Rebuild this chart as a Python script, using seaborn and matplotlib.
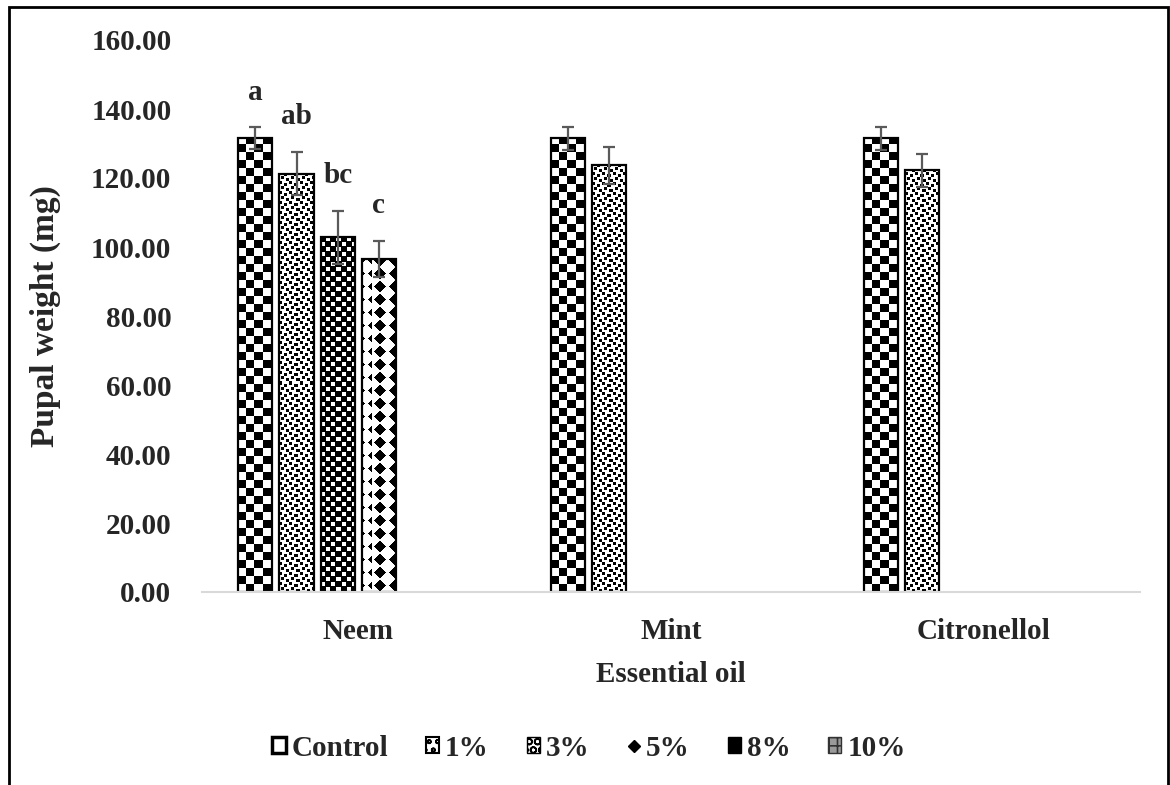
import numpy as np
import pandas as pd
import matplotlib
matplotlib.use("Agg")
import matplotlib.pyplot as plt
import seaborn as sns
from matplotlib.patches import Patch, Rectangle
from matplotlib.lines import Line2D

# ---------------- data ----------------
oils = ["Neem", "Mint", "Citronellol"]
levels = ["Control", "1%", "3%", "5%", "8%", "10%"]

neem_levels = ["Control", "1%", "3%", "5%"]
neem_mean = [131.5, 121.3, 102.8, 96.5]
neem_se = [3.2, 6.3, 7.6, 5.2]
neem_letters = ["a", "ab", "bc", "c"]

mint_levels = ["Control", "1%"]
mint_mean = [131.5, 123.7]
mint_se = [3.3, 5.3]

citro_levels = ["Control", "1%"]
citro_mean = [131.5, 122.3]
citro_se = [3.3, 4.8]

y_ticks = [0, 20, 40, 60, 80, 100, 120, 140, 160]

rows = []
for lv, m, s, l in zip(neem_levels, neem_mean, neem_se, neem_letters):
    rows.append(dict(oil="Neem", level=lv, weight=m, se=s, letter=l))
for lv, m, s in zip(mint_levels, mint_mean, mint_se):
    rows.append(dict(oil="Mint", level=lv, weight=m, se=s, letter=""))
for lv, m, s in zip(citro_levels, citro_mean, citro_se):
    rows.append(dict(oil="Citronellol", level=lv, weight=m, se=s, letter=""))
df = pd.DataFrame(rows)

# ---------------- style ----------------
sns.set_theme(style="white")
plt.rcParams["font.family"] = ["Liberation Serif", "DejaVu Serif"]
plt.rcParams["font.weight"] = "bold"
plt.rcParams["hatch.linewidth"] = 1.2
FS = 21

fig = plt.figure(figsize=(11.7, 7.85), dpi=100)
ax = fig.add_axes([202 / 1170, 1 - 592 / 785, (1140 - 202) / 1170, (592 - 40) / 785])

WIDTH = 0.79
sns.barplot(data=df, x="oil", y="weight", hue="level", order=oils,
            hue_order=levels, width=WIDTH, gap=0.17, errorbar=None,
            palette=["white"] * len(levels), edgecolor="black",
            linewidth=1.6, legend=False, ax=ax)

ax.set_ylim(0, 160)
ax.set_xlim(-0.5, len(oils) - 0.5)
ax.set_yticks(y_ticks)
ax.set_yticklabels([f"{v:.2f}" for v in y_ticks])
for s in ["top", "right", "left"]:
    ax.spines[s].set_visible(False)
ax.spines["bottom"].set_color("#d9d9d9")
ax.spines["bottom"].set_linewidth(1.5)
ax.tick_params(axis="both", length=0, labelsize=FS)
ax.tick_params(axis="y", pad=22)
ax.tick_params(axis="x", pad=19)
ax.set_xlabel("Essential oil", fontsize=FS, fontweight="bold", labelpad=11)
ax.set_ylabel("Pupal weight (mg)", fontsize=24, fontweight="bold", labelpad=22)
for t in ax.get_xticklabels() + ax.get_yticklabels():
    t.set_fontweight("bold")


# ---------------- textures ----------------
def tex_checker(cell):
    t = np.ones((2 * cell, 2 * cell))
    t[:cell, :cell] = 0
    t[cell:, cell:] = 0
    return t


def tex_dots():
    t = np.ones((10, 10))
    for r, c in [(0, 0), (2, 5), (5, 2), (7, 7)]:
        t[r:r + 3, c:c + 3] = 0
    return t


def tex_dark():
    t = np.zeros((10, 10))
    t[0:4, 0:4] = 1
    t[5:9, 5:9] = 1
    return t


def tex_diamond():
    t = np.ones((13, 14))
    yy, xx = np.mgrid[0:13, 0:14]
    t[np.abs(yy - 6) + np.abs(xx - 7) <= 5] = 0
    return t


textures = {"Control": tex_checker(8), "1%": tex_dots(), "3%": tex_dark(),
            "5%": tex_diamond(), "8%": np.zeros((4, 4)), "10%": tex_checker(2)}

slot = WIDTH / len(levels)
trans = ax.transData
for p in list(ax.patches):
    h = p.get_height()
    if not np.isfinite(h) or h <= 0:
        continue
    x0 = p.get_x()
    w = p.get_width()
    xc = x0 + w / 2
    cat = int(round(xc))
    hidx = int(round((xc - cat + WIDTH / 2) / slot - 0.5))
    oil = oils[cat]
    lv = levels[hidx]
    row = df[(df.oil == oil) & (df.level == lv)].iloc[0]

    (px0, py0) = trans.transform((x0, 0))
    (px1, py1) = trans.transform((x0 + w, h))
    wpx = max(int(round(px1 - px0)), 1)
    hpx = max(int(round(py1 - py0)), 1)
    T = textures[lv]
    th, tw = T.shape
    arr = np.tile(T, (hpx // th + 2, wpx // tw + 2))
    arr = arr[-hpx:, :wpx]
    if lv == "5%":
        arr = np.roll(arr, (wpx // 2 - 7) % tw, axis=1)
    im = ax.imshow(arr, extent=[x0, x0 + w, 0, h], cmap="gray", vmin=0, vmax=1,
                   interpolation="nearest", aspect="auto", origin="upper",
                   zorder=0.9)
    im.set_clip_path(p)
    p.set_facecolor("none")
    p.set_zorder(1.2)

    ax.errorbar(xc, h, yerr=row.se, fmt="none", ecolor="#5a5a5a",
                elinewidth=1.6, capsize=4.5, capthick=1.6, zorder=3)
    if row.letter:
        ax.annotate(row.letter, (xc, h + row.se), xytext=(0, 20),
                    textcoords="offset points", ha="center", va="baseline",
                    fontsize=FS, fontweight="bold")

ax.set_ylim(0, 160)
ax.set_xlim(-0.5, len(oils) - 0.5)

# ---------------- legend ----------------
handles = [
    Patch(facecolor="white", edgecolor="black", linewidth=2.5),
    Patch(facecolor="white", edgecolor="black", hatch="oo", linewidth=1.5),
    Patch(facecolor="white", edgecolor="black", hatch="OO", linewidth=1.0),
    Line2D([], [], marker="D", color="black", markersize=6, linestyle="none"),
    Patch(facecolor="black", edgecolor="black"),
    Patch(facecolor="#9a9a9a", edgecolor="#333333", hatch="++", linewidth=1.0),
]
fig.legend(handles, levels, loc="center", bbox_to_anchor=(589 / 1170, 1 - 748 / 785),
           ncol=6, frameon=False, fontsize=FS, handlelength=0.45,
           handleheight=0.45, handletextpad=0.2, columnspacing=1.3,
           prop={"weight": "bold", "size": FS})

# outer frame
fig.add_artist(Rectangle((9 / 1170, -0.05), (1168 - 9) / 1170, 1.05 - 7 / 785,
                         transform=fig.transFigure, fill=False,
                         edgecolor="black", linewidth=2))

fig.savefig("out.png", dpi=100, facecolor="white")
